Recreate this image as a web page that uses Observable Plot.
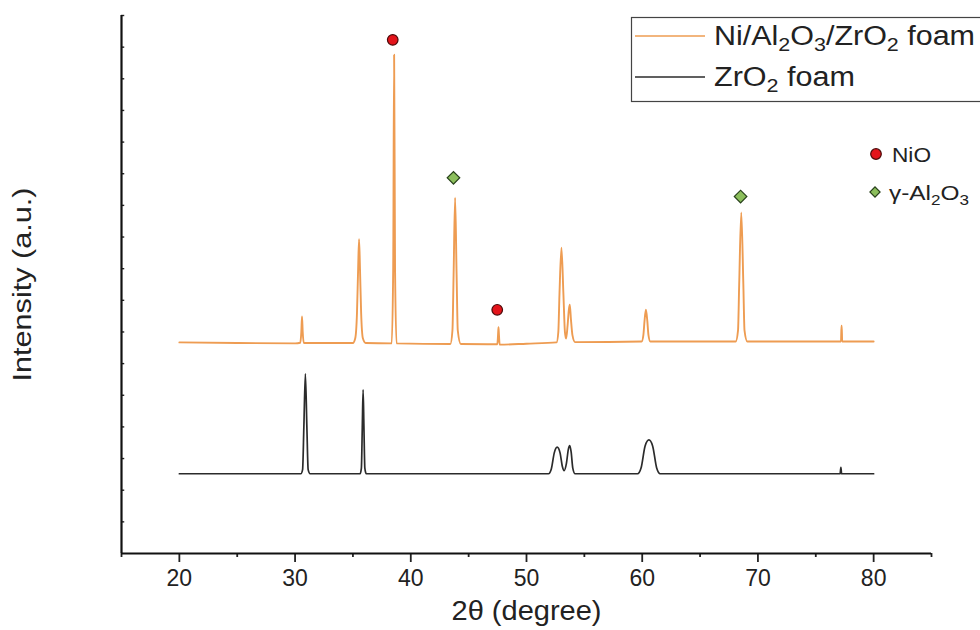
<!DOCTYPE html>
<html>
<head>
<meta charset="utf-8">
<script src="https://cdn.jsdelivr.net/npm/d3@7"></script>
<script src="https://cdn.jsdelivr.net/npm/@observablehq/plot@0.6"></script>
<style>
  html, body { margin: 0; padding: 0; background: #fff; }
  #chart { width: 980px; height: 630px; }
</style>
</head>
<body>
<div id="chart"></div>
<script>
// XRD patterns: 2θ (degree) vs intensity (a.u.), stacked with offset baselines.

// Ni/Al2O3/ZrO2 foam pattern
const nizrTheta = [
  20.0, 25.0, 30.0,
  30.45, 30.54, 30.6, 30.66, 30.75,
  35.0, 35.2, 35.35, 35.45, 35.53, 35.61, 35.71, 35.86, 36.1,
  38.35, 38.48, 38.56, 38.64, 38.77,
  43.42, 43.6, 43.7, 43.83, 43.96, 44.06, 44.32,
  47.48, 47.54, 47.58, 47.62, 47.68,
  50.0, 52.6, 52.75, 52.85, 53.02, 53.19, 53.32, 53.42, 53.55, 53.66, 53.74, 53.84, 53.97, 54.2,
  59.95, 60.1, 60.2, 60.32, 60.44, 60.54, 60.7,
  68.08, 68.28, 68.38, 68.56, 68.74, 68.84, 69.08,
  77.18, 77.22, 77.24, 77.28,
  80.0
];
const nizrIntensity = [
  667, 665, 664,
  666, 700, 749, 700, 665,
  665, 680, 760, 900, 993, 900, 760, 680, 665,
  664, 900, 1576, 900, 664,
  662, 705, 880, 1124, 880, 705, 662,
  661, 690, 715, 690, 660,
  663, 667, 700, 820, 966, 820, 700, 679, 720, 770, 786, 740, 690, 668,
  670, 690, 735, 770, 735, 690, 670,
  670, 705, 850, 1078, 850, 705, 670,
  670, 720, 720, 670,
  670
];

// ZrO2 foam pattern
const zroTheta = [
  20.0,
  30.5, 30.65, 30.76, 30.89, 31.02, 31.13, 31.3,
  35.62, 35.73, 35.81, 35.88, 35.95, 36.03, 36.15,
  51.9, 52.15, 52.4, 52.65, 52.9, 53.1, 53.25, 53.45, 53.62, 53.74, 53.86, 54.0, 54.2,
  59.6, 59.9, 60.25, 60.58, 60.9, 61.25, 61.55,
  77.1, 77.17, 77.23,
  80.0
];
const zroIntensity = [
  252,
  252, 265, 400, 568, 400, 265, 252,
  252, 270, 400, 517, 400, 270, 252,
  252, 268, 318, 336, 318, 275, 262, 285, 330, 341, 320, 270, 252,
  252, 270, 340, 359, 340, 270, 252,
  252, 272, 252,
  252
];

// Phase markers above the assigned reflections
const nioTheta = [38.44, 47.47];
const nioIntensity = [1623, 770];
const aloTheta = [43.69, 68.5];
const aloIntensity = [1187, 1128];

// Axes
const xDomain = [15, 85];
const yDomain = [0, 1700];
const xMajorTicks = [20, 30, 40, 50, 60, 70, 80];
const xMinorTicks = [15, 25, 35, 45, 55, 65, 75, 85];
const yTicks = d3.range(100, 1701, 100);

const orange = "#ee9c52";
const dark = "#2b2b2b";

const nizr = nizrTheta.map((t, i) => ({theta: t, intensity: nizrIntensity[i]}));
const zro = zroTheta.map((t, i) => ({theta: t, intensity: zroIntensity[i]}));
const nio = nioTheta.map((t, i) => ({theta: t, intensity: nioIntensity[i]}));
const alo = aloTheta.map((t, i) => ({theta: t, intensity: aloIntensity[i]}));

const font = "'Liberation Sans', Arial, Helvetica, sans-serif";

const chart = Plot.plot({
  width: 980,
  height: 630,
  marginLeft: 121,
  marginRight: 49,
  marginTop: 15,
  marginBottom: 77,
  style: {fontFamily: font, color: "#222", background: "#fff", overflow: "visible"},
  x: {domain: xDomain},
  y: {domain: yDomain, axis: null},
  marks: [
    Plot.axisX(xMajorTicks, {tickSize: 9, tickPadding: 7, fontSize: 23, strokeWidth: 1.8, label: null}),
    Plot.axisX(xMinorTicks, {tickSize: 4, tickFormat: () => "", strokeWidth: 1.8, label: null}),
    Plot.ruleY(yTicks, {x1: xDomain[0], x2: xDomain[0] + 0.28, stroke: "#222", strokeWidth: 1.4}),
    Plot.ruleX([xDomain[0]], {stroke: "#111", strokeWidth: 2.2}),
    Plot.ruleY([yDomain[0]], {stroke: "#111", strokeWidth: 2.2}),
    Plot.line(zro, {x: "theta", y: "intensity", stroke: dark, strokeWidth: 1.7, curve: "monotone-x"}),
    Plot.line(nizr, {x: "theta", y: "intensity", stroke: orange, strokeWidth: 1.9, curve: "monotone-x"}),
    Plot.dot(nio, {x: "theta", y: "intensity", r: 5.3, fill: "#e3141b", stroke: "#4a0a0a", strokeWidth: 1.2}),
    Plot.dot(alo, {x: "theta", y: "intensity", symbol: "square", rotate: 45, r: 5, fill: "#8cbf5c", stroke: "#27401a", strokeWidth: 1.2}),
    Plot.text(["2θ (degree)"], {frameAnchor: "bottom", dy: 58, textAnchor: "middle", lineAnchor: "middle", fontSize: 27, fill: "#222"}),
    Plot.text(["Intensity (a.u.)"], {frameAnchor: "left", dx: -99, rotate: -90, textAnchor: "middle", lineAnchor: "middle", fontSize: 26, fill: "#222"})
  ]
});

document.getElementById("chart").appendChild(chart);

const svg = d3.select(chart);

// Axis titles are set in a slightly extended face
svg.selectAll("text").filter(function () { return this.textContent === "2θ (degree)"; })
  .attr("textLength", 150).attr("lengthAdjust", "spacingAndGlyphs");
svg.selectAll("text").filter(function () { return this.textContent === "Intensity (a.u.)"; })
  .attr("textLength", 194).attr("lengthAdjust", "spacingAndGlyphs");

// Legend drawn on top of the plot area
const lg = svg.append("g").attr("font-family", font).attr("fill", "#222").attr("text-anchor", "start");

lg.append("rect")
  .attr("x", 631.5).attr("y", 17.5).attr("width", 380).attr("height", 84)
  .attr("fill", "#fff").attr("stroke", "#444").attr("stroke-width", 1.2);

// Appends text runs; subscripts are [string, true]
function richText(sel, parts, subSize, shift) {
  let down = false;
  parts.forEach(([str, sub]) => {
    const ts = sel.append("tspan").text(str);
    if (sub && !down) { ts.attr("dy", shift); down = true; }
    else if (!sub && down) { ts.attr("dy", -shift); down = false; }
    if (sub) ts.attr("font-size", subSize);
  });
}

const series = [
  {color: orange, y: 36, width: 261, parts: [["Ni/Al"], ["2", true], ["O"], ["3", true], ["/ZrO"], ["2", true], [" foam"]]},
  {color: dark, y: 77, width: 141, parts: [["ZrO"], ["2", true], [" foam"]]}
];
series.forEach(s => {
  lg.append("line").attr("x1", 635).attr("x2", 705).attr("y1", s.y).attr("y2", s.y)
    .attr("stroke", s.color).attr("stroke-width", 1.6);
  const t = lg.append("text").attr("x", 714).attr("y", s.y + 9).attr("font-size", 27)
    .attr("textLength", s.width).attr("lengthAdjust", "spacingAndGlyphs");
  richText(t, s.parts, 19, 6);
});

// Phase key
const key = lg.append("g");
key.append("circle").attr("cx", 876).attr("cy", 154).attr("r", 5.3)
  .attr("fill", "#e3141b").attr("stroke", "#4a0a0a").attr("stroke-width", 1.2);
key.append("text").attr("x", 892).attr("y", 162).attr("font-size", 20)
  .attr("textLength", 39).attr("lengthAdjust", "spacingAndGlyphs").text("NiO");
key.append("rect").attr("x", -3.6).attr("y", -3.6).attr("width", 7.2).attr("height", 7.2)
  .attr("transform", "translate(875,192) rotate(45)")
  .attr("fill", "#8cbf5c").attr("stroke", "#27401a").attr("stroke-width", 1.2);
const kt = key.append("text").attr("x", 889).attr("y", 200).attr("font-size", 20)
  .attr("textLength", 80).attr("lengthAdjust", "spacingAndGlyphs");
richText(kt, [["γ-Al"], ["2", true], ["O"], ["3", true]], 14, 5);
</script>
</body>
</html>
